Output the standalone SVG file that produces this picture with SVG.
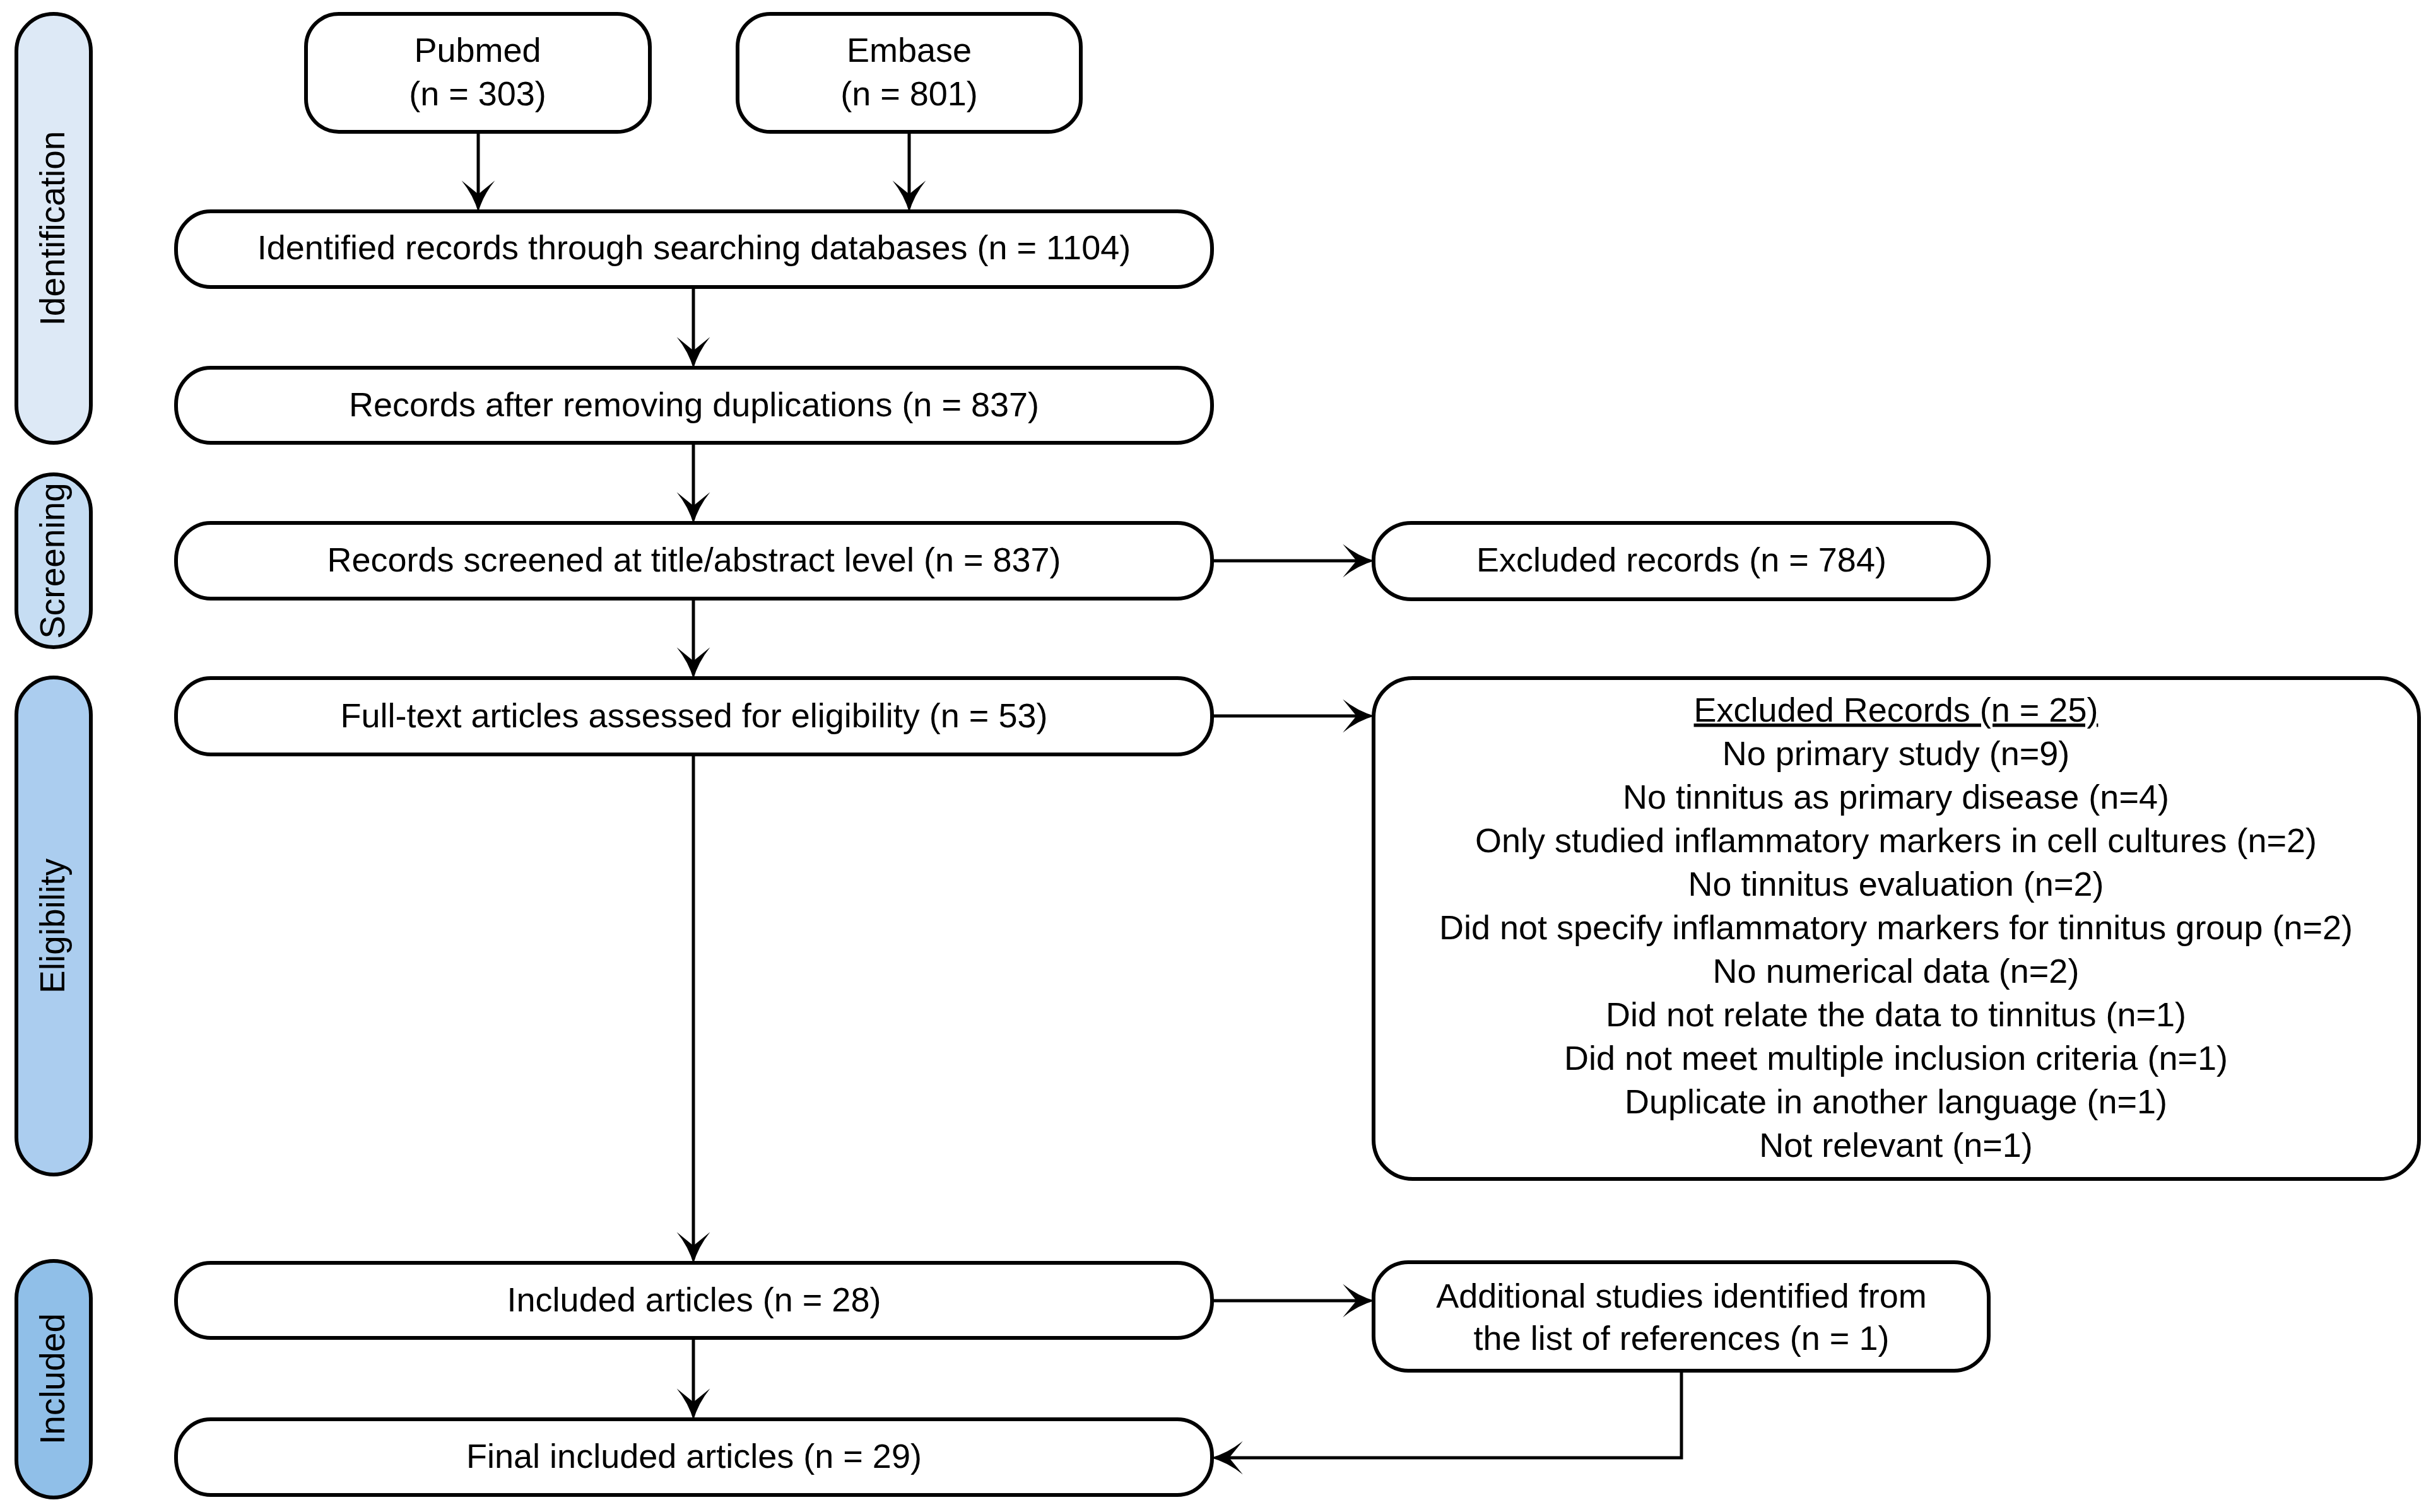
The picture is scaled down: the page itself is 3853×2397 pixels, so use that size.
<svg xmlns="http://www.w3.org/2000/svg" width="3853" height="2397" viewBox="0 0 3853 2397">
<style>
.box{fill:#ffffff;stroke:#000000;stroke-width:6}
.pill{stroke:#000000;stroke-width:6}
.t{font-family:"Liberation Sans",Arial,sans-serif;font-size:54px;fill:#000000;text-anchor:middle}
.pt{font-family:"Liberation Sans",Arial,sans-serif;font-size:55px;fill:#000000;text-anchor:middle}
.c{fill:none;stroke:#000000;stroke-width:5}
</style>
<defs>
<marker id="ah" markerUnits="userSpaceOnUse" markerWidth="60" markerHeight="60" viewBox="-45 -25 50 50" refX="-8" refY="0" orient="auto" overflow="visible">
<path d="M0,0 Q-22,-6 -42,-22 L-24,0 L-42,22 Q-22,6 0,0 Z" fill="#000000"/>
</marker>
</defs>
<rect width="3853" height="2397" fill="#ffffff"/>
<g id="phase-identification">
<rect class="pill" x="26" y="22" width="118" height="680" rx="59" ry="59" fill="#DDE9F6"/>
<text class="pt" transform="translate(102,362) rotate(-90)">Identification</text>
</g>
<g id="phase-screening">
<rect class="pill" x="26" y="752" width="118" height="274" rx="59" ry="59" fill="#C6DDF3"/>
<text class="pt" transform="translate(102,889) rotate(-90)">Screening</text>
</g>
<g id="phase-eligibility">
<rect class="pill" x="26" y="1074" width="118" height="788" rx="59" ry="59" fill="#ABCDEF"/>
<text class="pt" transform="translate(102,1468) rotate(-90)">Eligibility</text>
</g>
<g id="phase-included">
<rect class="pill" x="26" y="1999" width="118" height="375" rx="59" ry="59" fill="#90BFE8"/>
<text class="pt" transform="translate(102,2186) rotate(-90)">Included</text>
</g>
<g id="connectors">
<path class="c" d="M758,209 V327" marker-end="url(#ah)"/>
<path class="c" d="M1441,209 V327" marker-end="url(#ah)"/>
<path class="c" d="M1099,455 V575" marker-end="url(#ah)"/>
<path class="c" d="M1099,702 V821" marker-end="url(#ah)"/>
<path class="c" d="M1921,889 H2169" marker-end="url(#ah)"/>
<path class="c" d="M1099,949 V1067" marker-end="url(#ah)"/>
<path class="c" d="M1921,1135 H2169" marker-end="url(#ah)"/>
<path class="c" d="M1099,1196 V1994" marker-end="url(#ah)"/>
<path class="c" d="M1921,2062 H2169" marker-end="url(#ah)"/>
<path class="c" d="M1099,2121 V2242" marker-end="url(#ah)"/>
<path class="c" d="M2665,2173 V2311 H1929" marker-end="url(#ah)"/>
</g>
<g id="pubmed">
<rect class="box" x="485" y="22" width="545" height="187" rx="52" ry="52"/>
<text class="t" x="757" y="98">Pubmed</text>
<text class="t" x="757" y="167">(n = 303)</text>
</g>
<g id="embase">
<rect class="box" x="1169" y="22" width="544" height="187" rx="52" ry="52"/>
<text class="t" x="1441" y="98">Embase</text>
<text class="t" x="1441" y="167">(n = 801)</text>
</g>
<g id="identified">
<rect class="box" x="279" y="335" width="1642" height="120" rx="55" ry="58"/>
<text class="t" x="1100" y="411">Identified records through searching databases (n = 1104)</text>
</g>
<g id="after-duplicates">
<rect class="box" x="279" y="583" width="1642" height="119" rx="55" ry="58"/>
<text class="t" x="1100" y="660">Records after removing duplications (n = 837)</text>
</g>
<g id="screened">
<rect class="box" x="279" y="829" width="1642" height="120" rx="55" ry="58"/>
<text class="t" x="1100" y="906">Records screened at title/abstract level (n = 837)</text>
</g>
<g id="excluded-784">
<rect class="box" x="2177" y="829" width="975" height="121" rx="60" ry="58"/>
<text class="t" x="2665" y="906">Excluded records (n = 784)</text>
</g>
<g id="fulltext">
<rect class="box" x="279" y="1075" width="1642" height="121" rx="55" ry="58"/>
<text class="t" x="1100" y="1153">Full-text articles assessed for eligibility (n = 53)</text>
</g>
<g id="excluded-25">
<rect class="box" x="2177" y="1075" width="1657" height="794" rx="62" ry="62"/>
<text class="t" x="3005" y="1144" text-decoration="underline">Excluded Records (n = 25)</text>
<text class="t" x="3005" y="1213">No primary study (n=9)</text>
<text class="t" x="3005" y="1282">No tinnitus as primary disease (n=4)</text>
<text class="t" x="3005" y="1351">Only studied inflammatory markers in cell cultures (n=2)</text>
<text class="t" x="3005" y="1420">No tinnitus evaluation (n=2)</text>
<text class="t" x="3005" y="1489">Did not specify inflammatory markers for tinnitus group (n=2)</text>
<text class="t" x="3005" y="1558">No numerical data (n=2)</text>
<text class="t" x="3005" y="1627">Did not relate the data to tinnitus (n=1)</text>
<text class="t" x="3005" y="1696">Did not meet multiple inclusion criteria (n=1)</text>
<text class="t" x="3005" y="1765">Duplicate in another language (n=1)</text>
<text class="t" x="3005" y="1834">Not relevant (n=1)</text>
</g>
<g id="included">
<rect class="box" x="279" y="2002" width="1642" height="119" rx="55" ry="58"/>
<text class="t" x="1100" y="2079">Included articles (n = 28)</text>
</g>
<g id="additional">
<rect class="box" x="2177" y="2001" width="975" height="172" rx="55" ry="55"/>
<text class="t" x="2665" y="2073">Additional studies identified from</text>
<text class="t" x="2665" y="2140">the list of references (n = 1)</text>
</g>
<g id="final">
<rect class="box" x="279" y="2250" width="1642" height="120" rx="55" ry="58"/>
<text class="t" x="1100" y="2327">Final included articles (n = 29)</text>
</g>
</svg>
